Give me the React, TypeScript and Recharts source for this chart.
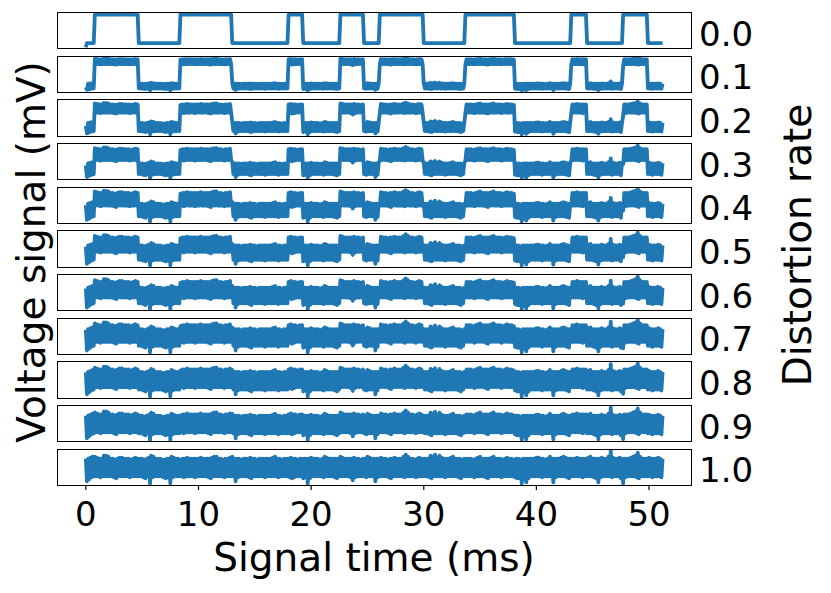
import React from "react"
import { Line, LineChart, XAxis, YAxis } from "recharts"

// distortion rate of each stacked panel, top to bottom
const RATES = [0, 0.1, 0.2, 0.3, 0.4, 0.5, 0.6, 0.7, 0.8, 0.9, 1.0]
const RATE_LABELS = ["0.0", "0.1", "0.2", "0.3", "0.4", "0.5", "0.6", "0.7", "0.8", "0.9", "1.0"]
const X_TICKS = [0, 10, 20, 30, 40, 50]

// sample spacing of the signal (ms); each step holds one upper and one lower noise sample
const TIME_STEP = 0.2

// intervals (ms) where the clean square signal is high
const PULSES: [number, number][] = [
  [0.8, 4.7],
  [8.4, 13.0],
  [18.0, 19.3],
  [22.6, 24.7],
  [26.1, 30.0],
  [33.7, 38.1],
  [43.1, 44.5],
  [47.7, 49.9],
]
// clean signal sits a little below its low level at the very first sample
const START_LEVEL = -0.15

// distortion noise, in tenths of the pulse height: upper swing samples
const NOISE_HIGH = [
  9, 9, 10, 11, 11, 10, 9, 9, 12, 12, 11, 9, 9, 8, 9, 10,
  10, 9, 9, 9, 8, 9, 10, 9, 9, 9, 8, 9, 10, 12, 11, 9,
  9, 9, 8, 8, 9, 9, 11, 10, 9, 9, 8, 9, 9, 10, 9, 9,
  9, 9, 9, 10, 9, 9, 9, 9, 10, 11, 11, 9, 9, 8, 9, 9,
  10, 11, 9, 9, 9, 8, 9, 9, 9, 10, 9, 9, 8, 9, 9, 9,
  9, 9, 9, 10, 11, 9, 9, 8, 9, 9, 9, 10, 9, 9, 8, 9,
  9, 9, 9, 9, 10, 9, 9, 9, 8, 9, 11, 10, 9, 9, 9, 9,
  9, 11, 10, 9, 9, 9, 9, 10, 9, 9, 8, 9, 9, 11, 10, 9,
  9, 9, 9, 10, 9, 9, 8, 9, 9, 10, 9, 9, 9, 11, 13, 11,
  9, 9, 8, 9, 10, 9, 9, 9, 9, 12, 11, 13, 10, 12, 10, 9,
  9, 9, 10, 11, 9, 9, 9, 8, 9, 9, 9, 9, 8, 9, 10, 11,
  9, 9, 9, 9, 10, 11, 9, 9, 9, 8, 9, 10, 9, 9, 8, 9,
  9, 8, 9, 9, 9, 9, 9, 9, 10, 10, 9, 9, 8, 9, 11, 9,
  9, 9, 9, 10, 11, 10, 9, 9, 9, 9, 10, 9, 9, 9, 9, 10,
  11, 9, 9, 9, 9, 10, 9, 9, 11, 17, 10, 9, 9, 10, 9, 9,
  9, 9, 10, 11, 12, 15, 11, 9, 9, 9, 10, 9, 9, 9, 10, 9,
  9,
]

// distortion noise, in tenths of the pulse height: lower swing samples
const NOISE_LOW = [
  -14, -12, -10, -9, -9, -9, -10, -9, -9, -9, -9, -9, -10, -11, -9, -9,
  -9, -9, -9, -10, -9, -9, -9, -9, -9, -10, -11, -9, -16, -10, -9, -9,
  -9, -9, -10, -11, -10, -16, -10, -9, -9, -9, -9, -10, -9, -9, -9, -9,
  -10, -9, -9, -9, -9, -9, -10, -11, -9, -9, -9, -9, -9, -10, -9, -9,
  -9, -9, -14, -10, -9, -9, -9, -9, -10, -11, -9, -9, -9, -9, -9, -10,
  -9, -9, -9, -9, -9, -10, -9, -9, -9, -9, -10, -11, -10, -9, -9, -9,
  -11, -10, -16, -11, -9, -9, -9, -9, -9, -10, -9, -9, -9, -9, -10, -11,
  -9, -9, -9, -9, -9, -10, -13, -10, -9, -9, -9, -9, -10, -9, -9, -9,
  -14, -10, -9, -9, -9, -9, -10, -11, -9, -9, -9, -9, -9, -10, -9, -9,
  -9, -9, -10, -9, -9, -9, -9, -9, -10, -11, -9, -9, -9, -9, -9, -10,
  -9, -9, -9, -9, -9, -10, -11, -9, -9, -9, -9, -9, -10, -9, -9, -9,
  -9, -10, -11, -9, -9, -9, -9, -9, -10, -9, -9, -9, -9, -9, -10, -11,
  -11, -16, -12, -15, -11, -9, -9, -9, -9, -9, -10, -9, -9, -9, -9, -15,
  -10, -9, -9, -9, -9, -10, -11, -9, -9, -9, -9, -9, -10, -9, -9, -9,
  -9, -10, -11, -15, -10, -9, -9, -9, -9, -10, -9, -9, -9, -11, -16, -10,
  -9, -9, -9, -9, -10, -11, -9, -9, -9, -9, -9, -10, -9, -9, -9, -10,
  -11,
]

const cleanLevel = (t: number) => {
  if (t === 0) return START_LEVEL
  return PULSES.some(([a, b]) => t >= a && t < b) ? 1 : 0
}

const rows: Record<string, number>[] = []
NOISE_HIGH.forEach((hi, i) => {
  const samples: [number, number][] = [[i * TIME_STEP, hi]]
  if (i < NOISE_HIGH.length - 1) samples.push([i * TIME_STEP + TIME_STEP / 2, NOISE_LOW[i]])
  samples.forEach(([rawT, n]) => {
    const t = Math.round(rawT * 100) / 100
    const sq = cleanLevel(t)
    const row: Record<string, number> = { t }
    RATES.forEach((r, k) => {
      row["s" + k] = (1 - r) * sq + (r * n) / 10
    })
    rows.push(row)
  })
})

function paddedDomain(key: string): [number, number] {
  const vals = rows.map((r) => r[key])
  const lo = Math.min(...vals)
  const hi = Math.max(...vals)
  const pad = (hi - lo) * 0.05
  return [lo - pad, hi + pad]
}

const FONT = "DejaVu Sans, sans-serif"
const LEFT = 57.3
const PLOT_W = 634.4
const PANEL_H = 36
const TOP0 = 12.7
const PITCH = 43.66
const X_DOMAIN: [number, number] = [-2.56, 53.76]
const AXIS_H = 70

export default function App() {
  return (
    <div style={{ position: "absolute", left: 0, top: 0, width: 831, height: 593, background: "#fff", fontFamily: FONT }}>
      {RATES.map((r, k) => {
        const top = TOP0 + k * PITCH
        const last = k === RATES.length - 1
        return (
          <div key={k}>
            <div style={{ position: "absolute", left: LEFT, top }}>
              <LineChart
                width={PLOT_W}
                height={last ? PANEL_H + AXIS_H : PANEL_H}
                data={rows}
                margin={{ top: 0, right: 0, bottom: 0, left: 0 }}
              >
                <XAxis
                  dataKey="t"
                  type="number"
                  domain={X_DOMAIN}
                  ticks={X_TICKS}
                  hide={!last}
                  height={AXIS_H}
                  axisLine={false}
                  tickSize={5}
                  tickMargin={12}
                  tickLine={{ stroke: "#000", strokeWidth: 1.2 }}
                  tick={{ fontSize: 34, fill: "#000", fontFamily: FONT }}
                  allowDataOverflow
                />
                <YAxis hide type="number" domain={paddedDomain("s" + k)} allowDataOverflow />
                <Line
                  dataKey={"s" + k}
                  type="linear"
                  dot={false}
                  stroke="#1f77b4"
                  strokeWidth={3.8}
                  strokeLinejoin="round"
                  isAnimationActive={false}
                />
              </LineChart>
            </div>
            <div
              style={{
                position: "absolute",
                left: LEFT - 0.6,
                top: top - 0.6,
                width: PLOT_W + 1.2,
                height: PANEL_H + 1.2,
                border: "1.2px solid #000",
                boxSizing: "border-box",
                pointerEvents: "none",
              }}
            />
          </div>
        )
      })}
      <svg width={831} height={593} style={{ position: "absolute", left: 0, top: 0, pointerEvents: "none" }}>
        {RATE_LABELS.map((lab, k) => (
          <text key={lab} x={699} y={TOP0 + k * PITCH + PANEL_H / 2 + 15} fontSize={34} fontFamily={FONT} fill="#000">
            {lab}
          </text>
        ))}
        <text x={45} y={252} transform="rotate(-90 45 252)" textAnchor="middle" fontSize={39} fontFamily={FONT} fill="#000">
          Voltage signal (mV)
        </text>
        <text x={811} y={245} transform="rotate(-90 811 245)" textAnchor="middle" fontSize={39} fontFamily={FONT} fill="#000">
          Distortion rate
        </text>
        <text x={374} y={571} textAnchor="middle" fontSize={39} fontFamily={FONT} fill="#000">
          Signal time (ms)
        </text>
      </svg>
    </div>
  )
}
